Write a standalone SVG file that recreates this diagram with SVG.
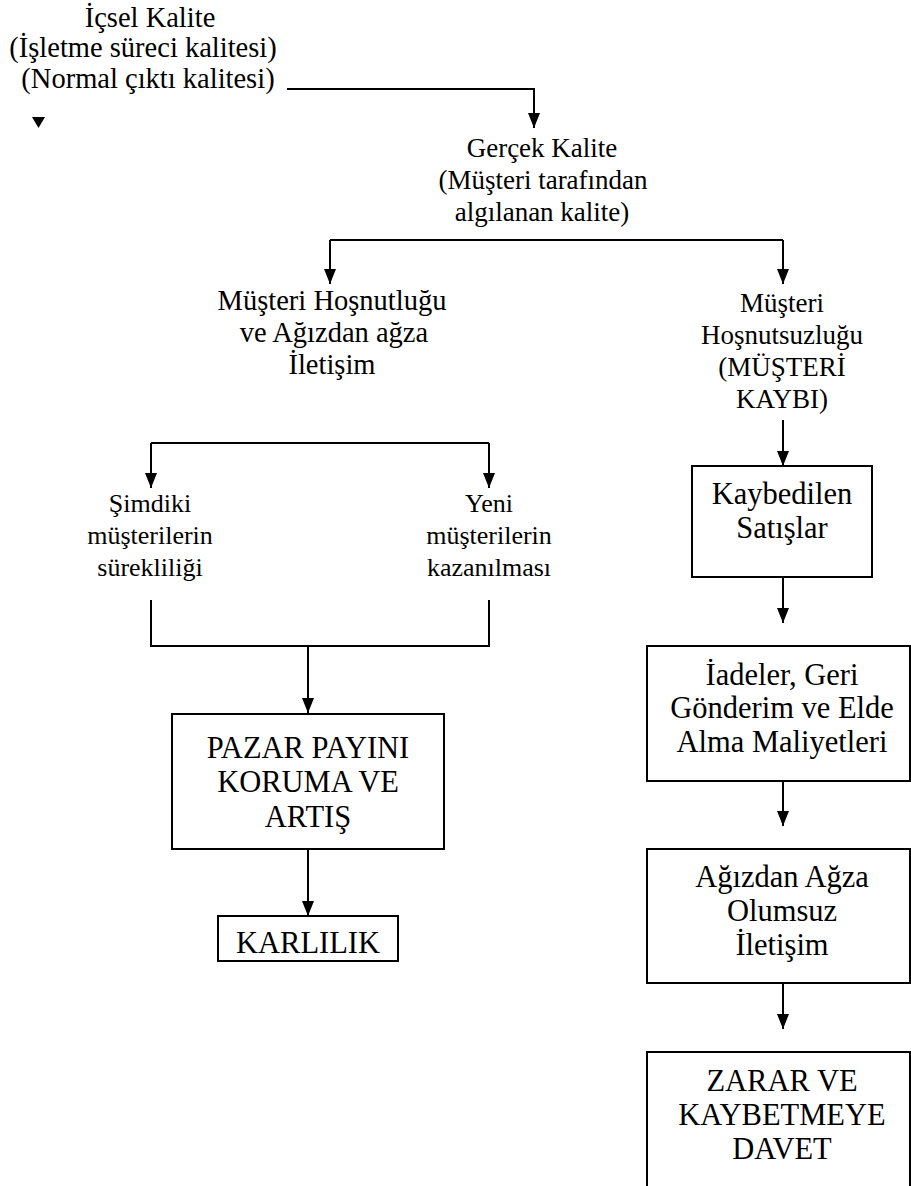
<svg xmlns="http://www.w3.org/2000/svg" width="911" height="1186" viewBox="0 0 911 1186">
<defs>
<marker id="ah" markerWidth="15" markerHeight="12" refX="15" refY="6" orient="auto" markerUnits="userSpaceOnUse" viewBox="0 0 15 12">
<path d="M0,0 L15,6 L0,12 Z" fill="#000"/>
</marker>
<style>
text{font-family:"Liberation Serif","Times New Roman",serif;font-size:27px;fill:#000;text-anchor:middle}
.t28{font-size:28.5px}
.t26{font-size:26px}
.tb{font-size:30.5px}
.box{fill:#fff;stroke:#000;stroke-width:2}
.ln{fill:none;stroke:#000;stroke-width:2}
.ar{fill:none;stroke:#000;stroke-width:2;marker-end:url(#ah)}
</style>
</defs>
<rect width="911" height="1186" fill="#fff"/>
<g id="connectors">
<polyline class="ar" points="287,89 534,89 534,128"/>
<path d="M32,117 L45,117 L38.5,128 Z" fill="#000"/>
<polyline class="ln" points="330,240 783,240"/>
<line class="ar" x1="330" y1="240" x2="330" y2="284"/>
<line class="ar" x1="783" y1="240" x2="783" y2="284"/>
<polyline class="ln" points="151,443 489,443"/>
<line class="ar" x1="151" y1="443" x2="151" y2="488"/>
<line class="ar" x1="489" y1="443" x2="489" y2="488"/>
<polyline class="ln" points="151,600 151,646 489,646 489,600"/>
<line class="ar" x1="308" y1="646" x2="308" y2="713"/>
<line class="ar" x1="308" y1="849" x2="308" y2="916"/>
<line class="ar" x1="783" y1="420" x2="783" y2="466"/>
<line class="ar" x1="783" y1="577" x2="783" y2="623"/>
<line class="ar" x1="783" y1="781" x2="783" y2="826"/>
<line class="ar" x1="783" y1="983" x2="783" y2="1029"/>
</g>
<g id="icsel">
<text class="t28" x="150" y="27">İçsel Kalite</text>
<text class="t28" x="143" y="57">(İşletme süreci kalitesi)</text>
<text class="t28" x="148" y="88">(Normal çıktı kalitesi)</text>
</g>
<g id="gercek">
<text x="542" y="157">Gerçek Kalite</text>
<text x="543" y="189">(Müşteri tarafından</text>
<text x="542" y="221">algılanan kalite)</text>
</g>
<g id="hosnutluk">
<text class="t28" x="332" y="310">Müşteri Hoşnutluğu</text>
<text class="t28" x="334" y="342">ve Ağızdan ağza</text>
<text class="t28" x="332" y="374">İletişim</text>
</g>
<g id="hosnutsuzluk">
<text x="782" y="312">Müşteri</text>
<text x="782" y="344">Hoşnutsuzluğu</text>
<text x="782" y="376">(MÜŞTERİ</text>
<text x="782" y="408">KAYBI)</text>
</g>
<g id="simdiki">
<text class="t26" x="150" y="512">Şimdiki</text>
<text class="t26" x="150" y="544">müşterilerin</text>
<text class="t26" x="150" y="576">sürekliliği</text>
</g>
<g id="yeni">
<text class="t26" x="489" y="512">Yeni</text>
<text class="t26" x="489" y="544">müşterilerin</text>
<text class="t26" x="489" y="576">kazanılması</text>
</g>
<g id="pazar">
<rect class="box" x="172" y="714" width="272" height="135"/>
<text class="tb" x="308" y="758">PAZAR PAYINI</text>
<text class="tb" x="308" y="792">KORUMA VE</text>
<text class="tb" x="308" y="827">ARTIŞ</text>
</g>
<g id="karlilik">
<rect class="box" x="218" y="916" width="180" height="45"/>
<text class="tb" x="308" y="953">KARLILIK</text>
</g>
<g id="kaybedilen">
<rect class="box" x="692" y="466" width="180" height="111"/>
<text class="tb" x="782" y="504">Kaybedilen</text>
<text class="tb" x="782" y="538">Satışlar</text>
</g>
<g id="iadeler">
<rect class="box" x="647" y="646" width="263" height="135"/>
<text class="tb" x="782" y="685">İadeler, Geri</text>
<text class="tb" x="782" y="718">Gönderim ve Elde</text>
<text class="tb" x="782" y="752">Alma Maliyetleri</text>
</g>
<g id="agizdan">
<rect class="box" x="647" y="849" width="263" height="134"/>
<text class="tb" x="782" y="887">Ağızdan Ağza</text>
<text class="tb" x="782" y="921">Olumsuz</text>
<text class="tb" x="782" y="955">İletişim</text>
</g>
<g id="zarar">
<rect class="box" x="647" y="1052" width="263" height="160"/>
<text class="tb" x="782" y="1091">ZARAR VE</text>
<text class="tb" x="782" y="1125">KAYBETMEYE</text>
<text class="tb" x="782" y="1159">DAVET</text>
</g>
</svg>
